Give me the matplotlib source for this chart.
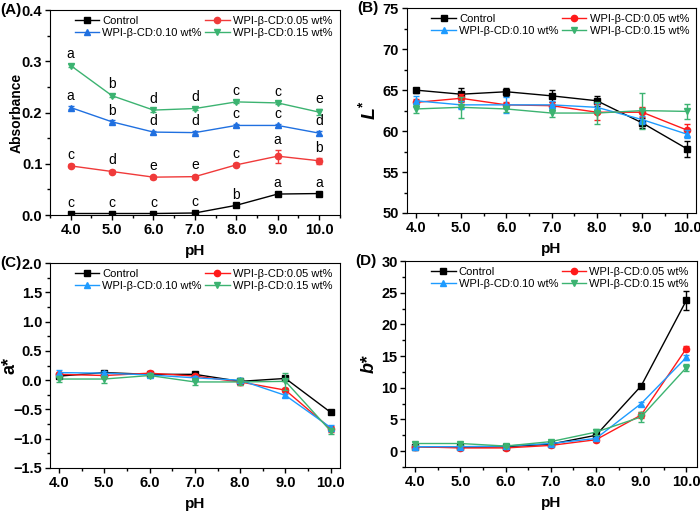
import numpy as np
import matplotlib
matplotlib.use("Agg")
import matplotlib.pyplot as plt
from matplotlib.ticker import MultipleLocator

plt.rcParams["font.family"] = ["Liberation Sans", "DejaVu Sans"]
plt.rcParams["mathtext.fontset"] = "custom"
plt.rcParams["mathtext.bf"] = "Liberation Sans:bold"
plt.rcParams["mathtext.it"] = "Liberation Sans:italic"
plt.rcParams["mathtext.bfit"] = "Liberation Sans:bold:italic"
plt.rcParams["mathtext.rm"] = "Liberation Sans"

# ----------------------------
# Data
# ----------------------------
ph = [4.0, 5.0, 6.0, 7.0, 8.0, 9.0, 10.0]
series = ["Control", "WPI-β-CD:0.05 wt%", "WPI-β-CD:0.10 wt%", "WPI-β-CD:0.15 wt%"]

abs_ctrl = [0.003, 0.003, 0.003, 0.004, 0.019, 0.041, 0.042]
abs_005 = [0.096, 0.085, 0.074, 0.075, 0.098, 0.115, 0.106]
abs_010 = [0.210, 0.182, 0.162, 0.161, 0.175, 0.175, 0.160]
abs_015 = [0.292, 0.233, 0.205, 0.208, 0.221, 0.219, 0.201]
abs_err_ctrl = [0.002, 0.002, 0.002, 0.002, 0.002, 0.002, 0.002]
abs_err_005 = [0.003, 0.003, 0.003, 0.003, 0.003, 0.013, 0.006]
abs_err_010 = [0.003, 0.003, 0.003, 0.003, 0.003, 0.003, 0.004]
abs_err_015 = [0.003, 0.003, 0.003, 0.003, 0.003, 0.003, 0.006]
abs_letters = [
    ["c", "c", "c", "c", "b", "a", "a"],
    ["c", "d", "e", "e", "c", "a", "b"],
    ["a", "b", "d", "d", "c", "c", "d"],
    ["a", "b", "d", "d", "c", "c", "e"],
]

L_ctrl = [65.0, 64.5, 64.8, 64.3, 63.7, 61.0, 57.8]
L_005 = [63.5, 64.0, 63.2, 63.1, 62.3, 62.3, 60.1]
L_010 = [63.7, 63.2, 63.2, 63.2, 62.9, 61.4, 59.6]
L_015 = [62.7, 62.9, 62.7, 62.2, 62.2, 62.5, 62.4]
L_err_ctrl = [0.3, 0.8, 0.5, 0.7, 0.6, 0.6, 1.0]
L_err_005 = [0.4, 0.5, 0.4, 0.5, 1.0, 0.6, 0.8]
L_err_010 = [0.6, 0.5, 1.0, 0.5, 0.5, 0.5, 0.5]
L_err_015 = [0.5, 1.3, 0.4, 0.5, 1.3, 2.2, 0.9]

a_ctrl = [0.07, 0.13, 0.10, 0.10, -0.02, 0.03, -0.55]
a_005 = [0.10, 0.08, 0.12, 0.07, -0.03, -0.17, -0.83]
a_010 = [0.13, 0.12, 0.09, 0.04, 0.00, -0.26, -0.81]
a_015 = [0.02, 0.02, 0.08, -0.03, -0.03, -0.02, -0.87]
a_err_ctrl = [0.03, 0.03, 0.03, 0.03, 0.03, 0.03, 0.03]
a_err_005 = [0.03, 0.03, 0.03, 0.03, 0.05, 0.04, 0.05]
a_err_010 = [0.04, 0.03, 0.03, 0.03, 0.04, 0.03, 0.05]
a_err_015 = [0.05, 0.06, 0.03, 0.06, 0.06, 0.15, 0.05]

b_ctrl = [0.7, 0.6, 0.7, 1.1, 2.5, 10.3, 23.8]
b_005 = [0.7, 0.5, 0.5, 0.9, 1.8, 5.7, 16.2]
b_010 = [0.7, 0.7, 0.8, 1.2, 2.0, 7.5, 14.8]
b_015 = [1.2, 1.2, 0.8, 1.5, 3.0, 5.4, 13.2]
b_err_ctrl = [0.2, 0.2, 0.2, 0.2, 0.3, 0.3, 1.5]
b_err_005 = [0.2, 0.2, 0.2, 0.2, 0.3, 0.5, 0.4]
b_err_010 = [0.2, 0.2, 0.2, 0.2, 0.3, 0.3, 0.4]
b_err_015 = [0.2, 0.3, 0.2, 0.3, 0.5, 0.8, 0.6]

markers = ["s", "o", "^", "v"]
colors_a = ["black", "#f03a3a", "#2070e0", "#3cb371"]
colors = ["black", "#ff1a1a", "#1e9bff", "#3cb371"]

# ----------------------------
# Plot
# ----------------------------
fig = plt.figure(figsize=(7.0, 5.12), dpi=100)

axA = fig.add_axes([0.0714, 0.580, 0.414, 0.400])
axB = fig.add_axes([0.581, 0.584, 0.414, 0.400])
axC = fig.add_axes([0.0714, 0.086, 0.414, 0.400])
axD = fig.add_axes([0.579, 0.088, 0.417, 0.402])


def draw(ax, ys, errs, cols):
    handles = []
    for name, y, e, c, m in zip(series, ys, errs, cols, markers):
        ax.errorbar(ph, y, yerr=e, color=c, fmt="none", elinewidth=1,
                    capsize=2, capthick=1)
        line, = ax.plot(ph, y, color=c, marker=m, markersize=4.5,
                        linewidth=1, label=name)
        handles.append(line)
    ax.set_xticks(ph)
    ax.set_xticklabels([f"{v:.1f}" for v in ph])
    ax.xaxis.set_minor_locator(MultipleLocator(0.5))
    ax.tick_params(which="both", direction="out", top=False, right=False)
    ax.tick_params(which="major", length=3.5, width=1, labelsize=10.5, pad=2)
    ax.tick_params(which="minor", length=2, width=1)
    for lab in ax.get_xticklabels() + ax.get_yticklabels():
        lab.set_fontweight("bold")
    ax.set_xlabel("pH", fontsize=11, fontweight="bold")
    ax.xaxis.set_label_coords(0.5, -0.14)
    # row-major order like the original legend
    order = [0, 2, 1, 3]
    ax.legend([handles[i] for i in order], [series[i] for i in order],
              ncol=2, loc="upper center", bbox_to_anchor=(0.53, 1.0),
              frameon=False, fontsize=8,
              handlelength=2.2, columnspacing=0.3, handletextpad=0.3,
              labelspacing=0.2, borderaxespad=0.1)


draw(axA, [abs_ctrl, abs_005, abs_010, abs_015],
     [abs_err_ctrl, abs_err_005, abs_err_010, abs_err_015], colors_a)
axA.set_xlim(3.5, 10.5)
axA.set_ylim(0, 0.4)
axA.yaxis.set_major_locator(MultipleLocator(0.1))
axA.yaxis.set_minor_locator(MultipleLocator(0.05))
axA.set_ylabel("Absorbance", fontsize=10, fontweight="bold")
axA.yaxis.set_label_coords(-0.092, 0.5)
for ys, errs, letters in zip([abs_ctrl, abs_005, abs_010, abs_015],
                             [abs_err_ctrl, abs_err_005, abs_err_010, abs_err_015],
                             abs_letters):
    for x, y, e, t in zip(ph, ys, errs, letters):
        axA.annotate(t, (x, y + e), xytext=(0, 2), textcoords="offset points",
                     ha="center", va="bottom", fontsize=10)

draw(axB, [L_ctrl, L_005, L_010, L_015],
     [L_err_ctrl, L_err_005, L_err_010, L_err_015], colors)
axB.set_xlim(3.8, 10.2)
axB.set_ylim(50, 75)
axB.yaxis.set_major_locator(MultipleLocator(5))
axB.yaxis.set_minor_locator(MultipleLocator(2.5))
axB.set_ylabel(r"$\mathbfit{L}^{\mathbf{*}}$", fontsize=14)
axB.yaxis.set_label_coords(-0.095, 0.5)

draw(axC, [a_ctrl, a_005, a_010, a_015],
     [a_err_ctrl, a_err_005, a_err_010, a_err_015], colors)
axC.set_xlim(3.8, 10.2)
axC.set_ylim(-1.5, 2.0)
axC.yaxis.set_major_locator(MultipleLocator(0.5))
axC.yaxis.set_minor_locator(MultipleLocator(0.25))
axC.set_ylabel("a*", fontsize=13, fontweight="bold")
axC.yaxis.set_label_coords(-0.108, 0.5)

draw(axD, [b_ctrl, b_005, b_010, b_015],
     [b_err_ctrl, b_err_005, b_err_010, b_err_015], colors)
axD.set_xlim(3.78, 10.24)
axD.set_ylim(-2.5, 30)
axD.yaxis.set_major_locator(MultipleLocator(5))
axD.yaxis.set_minor_locator(MultipleLocator(2.5))
axD.set_ylabel("b*", fontsize=13, fontweight="bold", fontstyle="italic")
axD.yaxis.set_label_coords(-0.095, 0.5)

for ax, lab in zip([axA, axB, axC, axD], ["(A)", "(B)", "(C)", "(D)"]):
    ax.text(-0.172, 1.0, lab, transform=ax.transAxes, fontsize=11,
            fontweight="bold", ha="left", va="center")

fig.savefig("out.png", dpi=100)
